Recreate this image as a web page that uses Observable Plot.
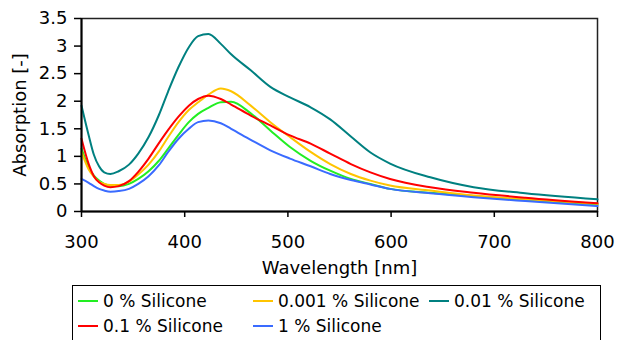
<!DOCTYPE html>
<html>
<head>
<meta charset="utf-8">
<script src="https://cdn.jsdelivr.net/npm/d3@7"></script>
<script src="https://cdn.jsdelivr.net/npm/@observablehq/plot@0.6"></script>
<style>
  html, body { margin: 0; padding: 0; background: #fff; overflow: hidden; }
  #wrap { position: relative; width: 618px; height: 340px; }
  #legend { position: absolute; left: 72px; top: 285px; width: 529px; height: 80px;
            border: 1.5px solid #000; box-sizing: border-box;
            font-family: "DejaVu Sans", sans-serif; font-size: 17px; color: #000; }
  .item { position: absolute; height: 20px; line-height: 20px; white-space: nowrap; }
  .sw { position: absolute; left: 0; top: 9px; width: 20px; height: 2px; }
  .lab { position: absolute; left: 25px; top: 0; }
</style>
</head>
<body>
<div id="wrap"><div id="chart"></div><div id="legend"></div></div>
<script>
const seriesNames = ["0 % Silicone", "0.001 % Silicone", "0.01 % Silicone", "0.1 % Silicone", "1 % Silicone"];
const seriesColors = ["#22ee22", "#ffc400", "#008080", "#ff0000", "#3a6bff"];
const xTicks = [300, 400, 500, 600, 700, 800];
const yTicks = [0, 0.5, 1, 1.5, 2, 2.5, 3, 3.5];

const wavelength   = [300, 307, 312, 317, 322, 328, 336, 346, 355, 365, 375, 384, 394, 404, 413, 423, 435, 445, 464, 483, 502, 522, 541, 561, 580, 599, 638, 680, 730, 800];
const silicone0    = [1.14, 0.80, 0.65, 0.56, 0.50, 0.47, 0.46, 0.50, 0.59, 0.73, 0.92, 1.14, 1.39, 1.62, 1.77, 1.88, 1.98, 1.99, 1.78, 1.47, 1.17, 0.92, 0.74, 0.59, 0.50, 0.41, 0.34, 0.28, 0.21, 0.13];
const silicone0001 = [1.08, 0.76, 0.63, 0.54, 0.50, 0.48, 0.48, 0.54, 0.67, 0.85, 1.09, 1.35, 1.62, 1.84, 1.98, 2.12, 2.23, 2.18, 1.92, 1.62, 1.35, 1.08, 0.86, 0.68, 0.56, 0.47, 0.38, 0.29, 0.22, 0.14];
const silicone001  = [1.92, 1.38, 1.03, 0.82, 0.71, 0.68, 0.73, 0.85, 1.05, 1.35, 1.75, 2.18, 2.62, 2.98, 3.18, 3.22, 3.04, 2.85, 2.56, 2.26, 2.07, 1.89, 1.67, 1.36, 1.07, 0.87, 0.62, 0.44, 0.33, 0.22];
const silicone01   = [1.32, 0.86, 0.64, 0.53, 0.47, 0.44, 0.46, 0.55, 0.72, 0.96, 1.24, 1.48, 1.72, 1.92, 2.04, 2.10, 2.04, 1.94, 1.74, 1.56, 1.38, 1.23, 1.05, 0.86, 0.71, 0.59, 0.44, 0.34, 0.25, 0.15];
const silicone1    = [0.59, 0.52, 0.46, 0.41, 0.38, 0.36, 0.37, 0.41, 0.50, 0.64, 0.84, 1.08, 1.32, 1.50, 1.62, 1.65, 1.60, 1.50, 1.30, 1.11, 0.96, 0.82, 0.68, 0.57, 0.49, 0.41, 0.33, 0.26, 0.19, 0.10];

const seriesValues = [silicone0, silicone0001, silicone001, silicone01, silicone1];
const data = seriesNames.flatMap((name, i) =>
  wavelength.map((w, j) => ({series: name, wl: w, abs: seriesValues[i][j]})));

const chart = Plot.plot({
  width: 618,
  height: 283,
  marginLeft: 81,
  marginRight: 21,
  marginTop: 18,
  marginBottom: 72,
  style: {fontFamily: "DejaVu Sans, sans-serif", fontSize: "18px", color: "#000", background: "#fff"},
  x: {domain: [300, 800]},
  y: {domain: [0, 3.5]},
  color: {domain: seriesNames, range: seriesColors},
  marks: [
    Plot.frame({stroke: "#222", strokeWidth: 1.5}),
    Plot.axisX({ticks: xTicks, tickSize: 6, tickPadding: 18, tickFormat: d => String(d), label: null, strokeWidth: 1.5}),
    Plot.axisY({ticks: yTicks, tickSize: 7, tickPadding: 7, tickFormat: d => String(d), label: null, strokeWidth: 1.5}),
    Plot.line(data, {x: "wl", y: "abs", stroke: "series", z: "series", strokeWidth: 2, curve: "monotone-x"}),
    Plot.ruleX([300], {stroke: "#000", strokeWidth: 2}),
    Plot.ruleY([0], {stroke: "#000", strokeWidth: 2}),
    Plot.text(["Wavelength [nm]"], {frameAnchor: "bottom", dy: 57, lineAnchor: "middle", textAnchor: "middle", text: d => d}),
    Plot.text(["Absorption [-]"], {frameAnchor: "left", dx: -61, rotate: -90, lineAnchor: "middle", textAnchor: "middle", text: d => d})
  ]
});
document.getElementById("chart").appendChild(chart);

// legend
const legend = document.getElementById("legend");
const colLeft = [5, 180, 356];
const rowTop = [5, 30];
seriesNames.forEach((name, i) => {
  const item = document.createElement("div");
  item.className = "item";
  item.style.left = colLeft[i % 3] + "px";
  item.style.top = rowTop[Math.floor(i / 3)] + "px";
  const sw = document.createElement("div");
  sw.className = "sw";
  sw.style.background = seriesColors[i];
  const lab = document.createElement("span");
  lab.className = "lab";
  lab.textContent = name;
  item.appendChild(sw);
  item.appendChild(lab);
  legend.appendChild(item);
});
</script>
</body>
</html>
